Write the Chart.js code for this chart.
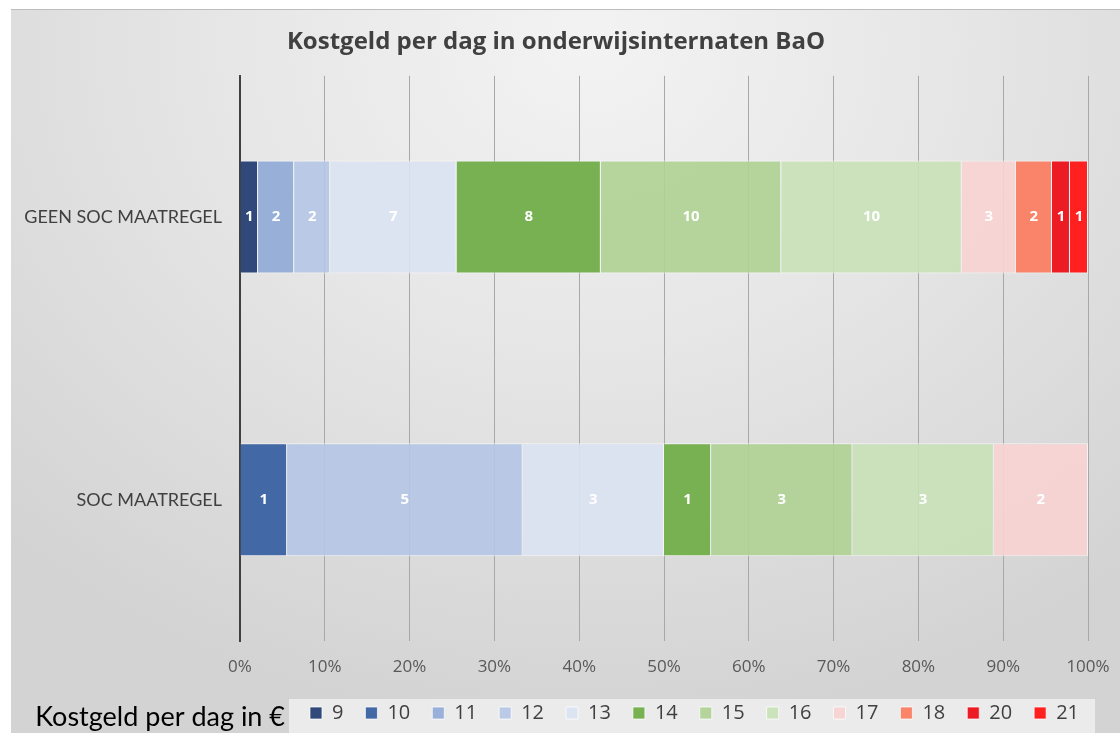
<!DOCTYPE html>
<html>
<head>
<meta charset="utf-8">
<script src="https://cdn.jsdelivr.net/npm/chart.js@4/dist/chart.umd.min.js"></script>
<style>
  html, body { margin: 0; padding: 0; background: #fff; width: 1120px; height: 733px; overflow: hidden; }
  #wrap {
    position: absolute; left: 11px; top: 9px; width: 1109px; height: 724px;
    border-top: 1px solid #bdbdbd; box-sizing: border-box;
    background: radial-gradient(ellipse 75% 95% at 52% 5%, #f3f3f3 0%, #e6e6e6 45%, #d3d3d3 100%);
  }
</style>
</head>
<body>
<div id="wrap"><canvas id="kostgeld"></canvas></div>
<script>
// categorieen en kostgeld per dag (aantal internaten)
const categories = ['GEEN SOC MAATREGEL', 'SOC MAATREGEL'];
const prices = ['9', '10', '11', '12', '13', '14', '15', '16', '17', '18', '20', '21'];
const geenSoc = [1, 0, 2, 2, 7, 8, 10, 10, 3, 2, 1, 1];
const soc = [0, 1, 0, 5, 3, 1, 3, 3, 2, 0, 0, 0];
const priceColors = ['#30497a', '#4268a5', 'rgba(145,170,215,0.92)', 'rgba(181,198,229,0.9)', 'rgba(219,227,242,0.9)',
    '#78b152', 'rgba(174,210,147,0.9)', 'rgba(201,225,184,0.9)', 'rgba(248,211,211,0.9)', '#f98469', '#ec1c24', '#ff2020'];

const totalGeen = geenSoc.reduce((a, b) => a + b, 0);
const totalSoc = soc.reduce((a, b) => a + b, 0);

const datasets = prices.map((p, i) => ({
    label: p,
    counts: [geenSoc[i], soc[i]],
    data: [geenSoc[i] / totalGeen * 100, soc[i] / totalSoc * 100],
    backgroundColor: priceColors[i],
    borderColor: 'rgba(255,255,255,0.7)',
    borderWidth: 1,
    barPercentage: 0.8,
    categoryPercentage: 0.5
}));

// witte aantallen in de balken
const segmentLabels = {
    id: 'segmentLabels',
    afterDatasetsDraw(chart) {
        const ctx = chart.ctx;
        ctx.save();
        ctx.font = 'bold 15px "Open Sans"';
        ctx.fillStyle = '#ffffff';
        ctx.textAlign = 'center';
        ctx.textBaseline = 'middle';
        chart.data.datasets.forEach((ds, i) => {
            chart.getDatasetMeta(i).data.forEach((bar, j) => {
                const n = ds.counts[j];
                if (!n) return;
                ctx.fillText(String(n), (bar.x + bar.base) / 2, bar.y);
            });
        });
        ctx.restore();
    }
};

// legenda achtergrond + titel links ervan
const legendExtras = {
    id: 'legendExtras',
    beforeDraw(chart) {
        const ctx = chart.ctx;
        const lg = chart.legend;
        ctx.save();
        ctx.fillStyle = 'rgba(236,236,236,0.95)';
        ctx.fillRect(278, lg.top + 18, 806, chart.height - lg.top - 18);
        ctx.font = '27px Lato';
        ctx.fillStyle = '#000000';
        ctx.textAlign = 'right';
        ctx.textBaseline = 'middle';
        ctx.fillText('Kostgeld per dag in \u20ac', 274, 707);
        ctx.restore();
    }
};

new Chart(document.getElementById('kostgeld'), {
    type: 'bar',
    data: { labels: categories, datasets: datasets },
    plugins: [segmentLabels, legendExtras],
    options: {
        indexAxis: 'y',
        responsive: true,
        maintainAspectRatio: false,
        animation: false,
        layout: { padding: { left: 0, right: 19, top: 0, bottom: 0 } },
        plugins: {
            title: {
                display: true,
                text: 'Kostgeld per dag in onderwijsinternaten BaO',
                color: '#404040',
                font: { family: 'Open Sans', size: 24, weight: 'bold' },
                padding: { top: 18, bottom: 19 }
            },
            legend: {
                position: 'bottom',
                align: 'end',
                labels: {
                    boxWidth: 12,
                    boxHeight: 12,
                    padding: 22,
                    color: '#404040',
                    font: { family: 'Open Sans', size: 20 }
                }
            },
            tooltip: { enabled: false }
        },
        scales: {
            x: {
                stacked: true,
                min: 0,
                max: 100,
                ticks: {
                    stepSize: 10,
                    padding: 16,
                    color: '#595959',
                    font: { family: 'Open Sans', size: 17 },
                    callback: v => v + '%'
                },
                grid: { color: '#a8a8a8', lineWidth: 1, drawTicks: false },
                border: { display: false },
                afterFit: s => { s.height = 40; s.paddingRight = 32; }
            },
            y: {
                stacked: true,
                ticks: {
                    padding: 18,
                    color: '#404040',
                    font: { family: 'Lato', size: 18 }
                },
                grid: { display: false, drawTicks: false },
                border: { display: true, color: '#404040', width: 2 },
                afterFit: s => { s.width = 229; }
            }
        }
    }
});
</script>
</body>
</html>
